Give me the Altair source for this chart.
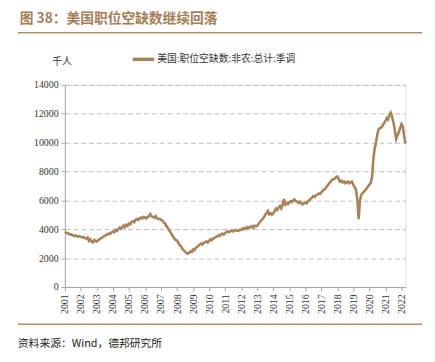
import altair as alt
import pandas as pd

# Monthly job openings (thousands), Jan of each year onward
v2001 = [3830, 3760, 3720, 3690, 3620, 3640, 3580, 3530, 3570, 3510, 3480, 3520]
v2002 = [3480, 3420, 3470, 3380, 3350, 3430, 3200, 3310, 3150, 3090, 3260, 3180]
v2003 = [3150, 3260, 3290, 3390, 3420, 3510, 3540, 3620, 3640, 3710, 3670, 3790]
v2004 = [3850, 3790, 3960, 3890, 4010, 4110, 4040, 4160, 4260, 4140, 4310, 4240]
v2005 = [4400, 4340, 4510, 4560, 4490, 4660, 4710, 4640, 4760, 4810, 4740, 4860]
v2006 = [4800, 4740, 4860, 4900, 5040, 4890, 4860, 4790, 4910, 4750, 4700, 4720]
v2007 = [4650, 4600, 4470, 4400, 4240, 4100, 3950, 3800, 3650, 3500, 3350, 3250]
v2008 = [3220, 3050, 2900, 2800, 2650, 2540, 2450, 2350, 2300, 2380, 2470, 2420]
v2009 = [2600, 2550, 2710, 2770, 2860, 2950, 3010, 2940, 3060, 3100, 3160, 3090]
v2010 = [3200, 3310, 3240, 3360, 3400, 3460, 3500, 3570, 3540, 3660, 3700, 3640]
v2011 = [3750, 3810, 3850, 3790, 3870, 3900, 3840, 3910, 3950, 3890, 3880, 3960]
v2012 = [3950, 4060, 4000, 4110, 4040, 4160, 4090, 4160, 4210, 4090, 4250, 4200]
v2013 = [4250, 4360, 4500, 4610, 4700, 4820, 5000, 5110, 5260, 5040, 5110, 5000]
v2014 = [5100, 5260, 5430, 5340, 5510, 5600, 5440, 5710, 6100, 5710, 5810, 5740]
v2015 = [5850, 5950, 5890, 6010, 6060, 5940, 5910, 5820, 5910, 5790, 5720, 5790]
v2016 = [5850, 5790, 5950, 6000, 6110, 6190, 6290, 6240, 6360, 6400, 6480, 6440]
v2017 = [6550, 6660, 6740, 6810, 6950, 7060, 7190, 7310, 7420, 7460, 7500, 7610]
v2018 = [7650, 7490, 7300, 7360, 7240, 7310, 7190, 7260, 7300, 7190, 7260, 7300]
v2019 = [7080, 6900, 6740, 6060, 4700, 6000, 6400, 6500, 6620, 6700, 6850, 6960]
v2020 = [7100, 7190, 7600, 8900, 9600, 10030, 10600, 10940, 11000, 11050, 11200, 11350]
v2021 = [11500, 11700, 11600, 11900, 12070, 11800, 11390, 10900, 10260, 10500, 10710, 11000]
v2022 = [11280, 11100, 10500, 9950]

values = (v2001 + v2002 + v2003 + v2004 + v2005 + v2006 + v2007 + v2008 + v2009 +
          v2010 + v2011 + v2012 + v2013 + v2014 + v2015 + v2016 + v2017 + v2018 +
          v2019 + v2020 + v2021 + v2022)
years = list(range(2001, 2023))
y_ticks = [0, 2000, 4000, 6000, 8000, 10000, 12000, 14000]

title_text = "图 38：美国职位空缺数继续回落"
series_name = "美国:职位空缺数:非农:总计:季调"
unit_text = "千人"
source_text = "资料来源：Wind，德邦研究所"

df = pd.DataFrame({
    "date": pd.date_range("2001-01-01", periods=len(values), freq="MS"),
    "value": values,
})

LINE = "#a8835a"
BROWN = "#a57d5a"
CJK = "Noto Sans CJK SC"
SERIF = "Liberation Serif, Times New Roman, DejaVu Serif, serif"

line = alt.Chart(df).mark_line(color=LINE, strokeWidth=2.6).encode(
    x=alt.X("date:T",
            scale=alt.Scale(domain=[alt.DateTime(year=2001, month=1, date=1),
                                    alt.DateTime(year=2022, month=4, date=1)]),
            axis=alt.Axis(values=[alt.DateTime(year=y, month=1, date=1) for y in years],
                          format="%Y", labelAngle=270, grid=False, title=None,
                          labelFont=SERIF, labelFontSize=10, labelColor="#333333",
                          domainColor="#a6a6a6", tickColor="#a6a6a6", tickSize=4,
                          labelPadding=3)),
    y=alt.Y("value:Q",
            scale=alt.Scale(domain=[0, 14000]),
            axis=alt.Axis(values=y_ticks, format="d", title=None, grid=True,
                          gridDash=[5, 3], gridColor="#bdbdbd", gridWidth=1,
                          labelFont=SERIF, labelFontSize=10, labelColor="#333333",
                          domainColor="#a6a6a6", tickColor="#a6a6a6", tickSize=4,
                          labelPadding=3)),
)

deco = pd.DataFrame({"k": [0]})
base = alt.Chart(deco)

title = base.mark_text(text=title_text, font=CJK, fontSize=14, fontWeight="bold",
                       color=BROWN, align="left", baseline="middle").encode(
    x=alt.value(-46), y=alt.value(-67))
top_rule = base.mark_rule(color="#b48c6a", strokeWidth=1.5).encode(
    x=alt.value(-48), x2=alt.value(364), y=alt.value(-53))
bottom_rule = base.mark_rule(color="#b48c6a", strokeWidth=1.5).encode(
    x=alt.value(-48), x2=alt.value(364), y=alt.value(244))
unit = base.mark_text(text=unit_text, font=CJK, fontSize=10, color="#333333",
                      align="center", baseline="middle").encode(
    x=alt.value(-3), y=alt.value(-23))
leg_line = base.mark_rule(color=LINE, strokeWidth=3.5).encode(
    x=alt.value(69), x2=alt.value(91), y=alt.value(-26))
leg_text = base.mark_text(text=series_name, font=CJK, fontSize=10, color="#333333",
                          align="left", baseline="middle").encode(
    x=alt.value(94), y=alt.value(-26))
source = base.mark_text(text=source_text, font=CJK, fontSize=11, color="#222222",
                        align="left", baseline="middle").encode(
    x=alt.value(-48), y=alt.value(264))

chart = alt.layer(line, title, top_rule, bottom_rule, unit, leg_line, leg_text, source).properties(
    width=347, height=206,
    autosize=alt.AutoSizeParams(type="none"),
    padding={"left": 58, "top": 75, "right": 22, "bottom": 68},
).configure_view(stroke=None).configure(background="white")

chart.save("out.html", embed_options={"renderer": "svg", "actions": False})
